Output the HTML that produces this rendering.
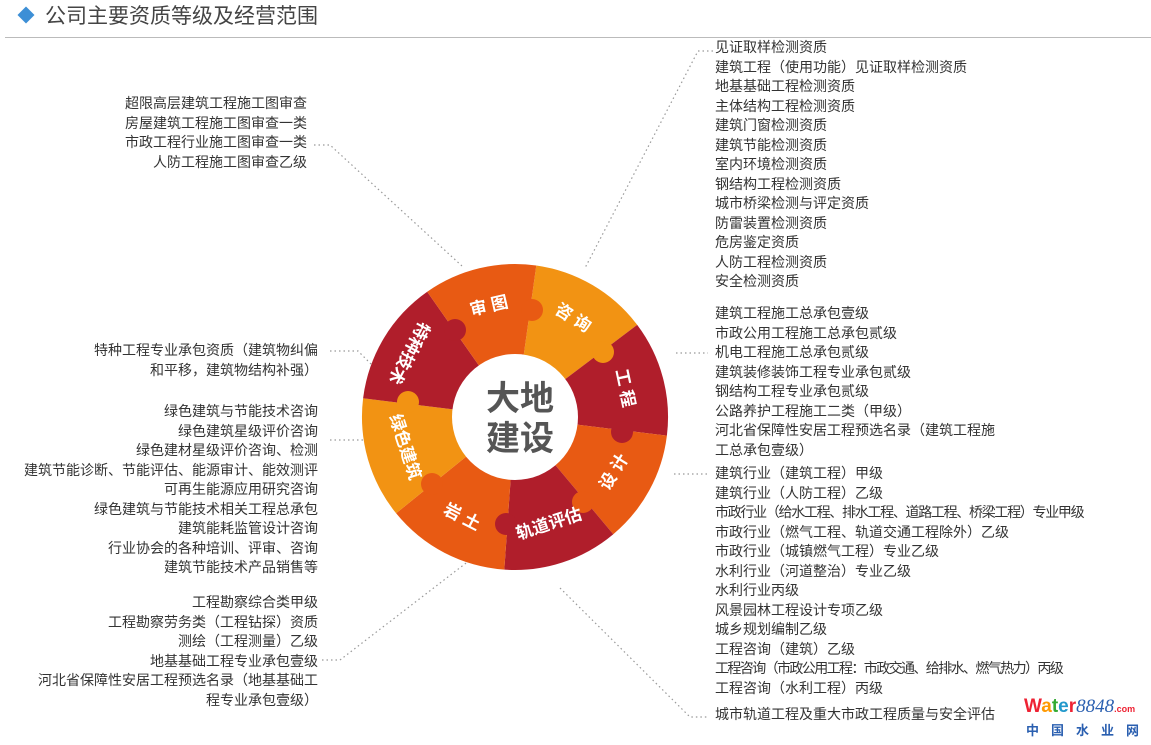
<!DOCTYPE html>
<html><head><meta charset="utf-8"><style>
*{margin:0;padding:0}
body{width:1151px;height:745px;background:#fff;position:relative;overflow:hidden;font-family:"Liberation Sans","Noto Sans CJK SC",sans-serif;color:#333}
.t{position:absolute;font-size:14px;line-height:19.5px;white-space:nowrap}
.r{text-align:right}
</style></head><body>
<div style="position:absolute;left:20px;top:9px;width:12px;height:12px;background:#3d8fd6;transform:rotate(45deg)"></div>
<div style="position:absolute;left:45px;top:4px;font-size:21px;color:#444;line-height:26px">公司主要资质等级及经营范围</div>
<div style="position:absolute;left:5px;top:37px;width:1146px;height:1px;background:#bbb"></div>

<svg width="1151" height="745" style="position:absolute;left:0;top:0">
<g fill="none" stroke="#999" stroke-width="1.2" stroke-dasharray="1.5 3">
<polyline points="713,51 698,51 585,268"/>
<polyline points="676,353 708,353"/>
<polyline points="674,474 708,474"/>
<polyline points="560,588 690,717 708,717"/>
<polyline points="314,145 330,145 462,266"/>
<polyline points="330,351 358,351 372,365"/>
<polyline points="330,440 365,440"/>
<polyline points="322,660 340,660 470,560"/>
</g>
<g>
<path d="M515,417 L536.3,265.5 A153,153 0 0 1 637.2,324.9 Z" fill="#f29313"/>
<path d="M515,417 L637.2,324.9 A153,153 0 0 1 666.9,435.6 Z" fill="#b01e2b"/>
<path d="M515,417 L666.9,435.6 A153,153 0 0 1 613.3,534.2 Z" fill="#e85a13"/>
<path d="M515,417 L613.3,534.2 A153,153 0 0 1 504.3,569.6 Z" fill="#b01e2b"/>
<path d="M515,417 L504.3,569.6 A153,153 0 0 1 396.1,513.3 Z" fill="#e85a13"/>
<path d="M515,417 L396.1,513.3 A153,153 0 0 1 363.1,398.3 Z" fill="#f29313"/>
<path d="M515,417 L363.1,398.3 A153,153 0 0 1 427.2,291.7 Z" fill="#b01e2b"/>
<path d="M515,417 L427.2,291.7 A153,153 0 0 1 536.3,265.5 Z" fill="#e85a13"/>
</g>
<g>
<circle cx="532" cy="310" r="11" fill="#e85a13"/>
<circle cx="603" cy="352" r="11" fill="#f29313"/>
<circle cx="622" cy="432" r="11" fill="#b01e2b"/>
<circle cx="583" cy="502" r="11" fill="#e85a13"/>
<circle cx="506" cy="524" r="11" fill="#b01e2b"/>
<circle cx="432" cy="484" r="11" fill="#e85a13"/>
<circle cx="408" cy="402" r="11" fill="#f29313"/>
<circle cx="455" cy="330" r="11" fill="#b01e2b"/>
</g>
<circle cx="515" cy="417" r="63" fill="#fff"/>
<g fill="#fff" font-size="17" font-weight="bold" text-anchor="middle" dominant-baseline="central" font-family="Liberation Sans,Noto Sans CJK SC,sans-serif">
<text transform="translate(489,306) rotate(-13)">审 图</text>
<text transform="translate(573,318) rotate(32)">咨 询</text>
<text transform="translate(625,388) rotate(78)">工 程</text>
<text transform="translate(614,472) rotate(-58)">设 计</text>
<text transform="translate(549,524) rotate(-18)">轨道评估</text>
<text transform="translate(462,517) rotate(27)">岩 土</text>
<text transform="translate(405,447) rotate(72)">绿色建筑</text>
<text transform="translate(409,353) rotate(118)">特种技术</text>
</g>
<g fill="#555" font-size="34" font-weight="bold" text-anchor="middle" font-family="Liberation Sans,Noto Sans CJK SC,sans-serif">
<text x="520" y="410">大地</text>
<text x="520" y="450">建设</text>
</g>
</svg>

<div class="t" style="left:715px;top:38px">见证取样检测资质<br>建筑工程（使用功能）见证取样检测资质<br>地基基础工程检测资质<br>主体结构工程检测资质<br>建筑门窗检测资质<br>建筑节能检测资质<br>室内环境检测资质<br>钢结构工程检测资质<br>城市桥梁检测与评定资质<br>防雷装置检测资质<br>危房鉴定资质<br>人防工程检测资质<br>安全检测资质</div>
<div class="t" style="left:715px;top:304px">建筑工程施工总承包壹级<br>市政公用工程施工总承包贰级<br>机电工程施工总承包贰级<br>建筑装修装饰工程专业承包贰级<br>钢结构工程专业承包贰级<br>公路养护工程施工二类（甲级）<br>河北省保障性安居工程预选名录（建筑工程施<br>工总承包壹级）</div>
<div class="t" style="left:715px;top:464px">建筑行业（建筑工程）甲级<br>建筑行业（人防工程）乙级<br><span style="letter-spacing:-1.3px">市政行业（给水工程、排水工程、道路工程、桥梁工程）专业甲级</span><br>市政行业（燃气工程、轨道交通工程除外）乙级<br>市政行业（城镇燃气工程）专业乙级<br>水利行业（河道整治）专业乙级<br>水利行业丙级<br>风景园林工程设计专项乙级<br>城乡规划编制乙级<br>工程咨询（建筑）乙级<br><span style="letter-spacing:-1.6px">工程咨询（市政公用工程：市政交通、给排水、燃气热力）丙级</span><br>工程咨询（水利工程）丙级</div>
<div class="t" style="left:715px;top:705px">城市轨道工程及重大市政工程质量与安全评估</div>

<div class="t r" style="right:844px;top:94px">超限高层建筑工程施工图审查<br>房屋建筑工程施工图审查一类<br>市政工程行业施工图审查一类<br>人防工程施工图审查乙级</div>
<div class="t r" style="right:833px;top:341px">特种工程专业承包资质（建筑物纠偏<br>和平移，建筑物结构补强）</div>
<div class="t r" style="right:833px;top:402px">绿色建筑与节能技术咨询<br>绿色建筑星级评价咨询<br>绿色建材星级评价咨询、检测<br>建筑节能诊断、节能评估、能源审计、能效测评<br>可再生能源应用研究咨询<br>绿色建筑与节能技术相关工程总承包<br>建筑能耗监管设计咨询<br>行业协会的各种培训、评审、咨询<br>建筑节能技术产品销售等</div>
<div class="t r" style="right:833px;top:593px">工程勘察综合类甲级<br>工程勘察劳务类（工程钻探）资质<br>测绘（工程测量）乙级<br>地基基础工程专业承包壹级<br>河北省保障性安居工程预选名录（地基基础工<br>程专业承包壹级）</div>

<div style="position:absolute;left:1024px;top:697px;font-size:19px;font-weight:bold;line-height:20px;white-space:nowrap"><span style="color:#e23">W</span><span style="color:#f90">a</span><span style="color:#3a3">t</span><span style="color:#29c">e</span><span style="color:#e23">r</span><span style="color:#2a5fb0;font-style:italic;font-weight:normal;font-family:'Liberation Serif',serif">8848</span><span style="color:#e23;font-size:9px">.com</span></div>
<div style="position:absolute;left:1026px;top:720px;font-size:13px;font-weight:bold;color:#2a5fb0;letter-spacing:12px;white-space:nowrap">中国水业网</div>
</body></html>
